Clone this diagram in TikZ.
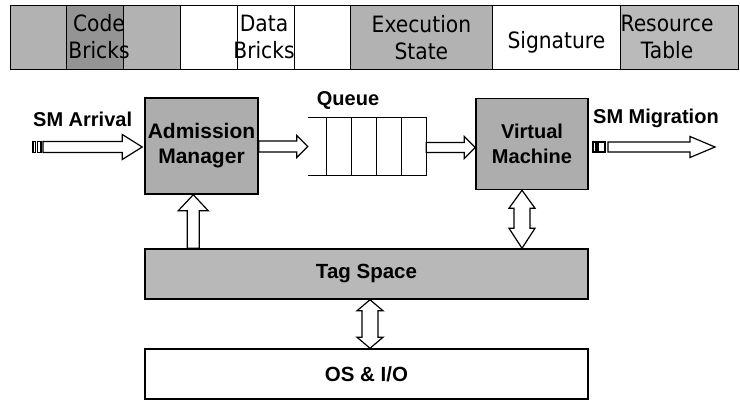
\documentclass[tikz,border=0pt]{standalone}
\usepackage{fontspec}
\setmainfont{Liberation Sans}
\newfontfamily\topfont[FakeStretch=0.9]{DejaVu Sans}
\usetikzlibrary{calc}
\tikzset{
  cell/.style={draw=black, line width=0.8pt, inner sep=0pt, minimum height=64pt, anchor=north west},
  shadedcell/.style={fill=black!30},
  darkcell/.style={fill=black!42},
  toptext/.style={font=\topfont\fontsize{22.5}{27}\selectfont, align=center},
  box/.style={draw=black, line width=1.5pt, inner sep=0pt, fill=black!32, align=center},
  boldtext/.style={font=\bfseries\fontsize{20}{25}\selectfont},
  lbl/.style={font=\bfseries\fontsize{20}{24}\selectfont, inner sep=0pt},
  blk/.style={draw=black, line width=1.2pt, fill=white, line join=miter},
  qline/.style={draw=black, line width=1pt},
}
\newcommand\HArrow[5]{%
  \draw[blk] let \p1=(#1), \p2=(#2) in
   (\x1,\y1+#3) -- (\x2-#5,\y1+#3) -- (\x2-#5,\y1+#4) -- (\x2,\y1) --
   (\x2-#5,\y1-#4) -- (\x2-#5,\y1-#3) -- (\x1,\y1-#3) -- cycle;}
\newcommand\UArrow[5]{%
  \draw[blk] let \p1=(#1), \p2=(#2) in
   (\x1-#3,\y1) -- (\x1-#3,\y2-#5) -- (\x1-#4,\y2-#5) -- (\x1,\y2) --
   (\x1+#4,\y2-#5) -- (\x1+#3,\y2-#5) -- (\x1+#3,\y1) -- cycle;}
\newcommand\DArrow[6]{%
  \draw[blk] let \p1=(#1), \p2=(#2) in
   (\x1,\y1) -- (\x1+#4,\y1-#5) -- (\x1+#3,\y1-#5) -- (\x1+#3,\y2+#6) --
   (\x1+#4,\y2+#6) -- (\x1,\y2) -- (\x1-#4,\y2+#6) -- (\x1-#3,\y2+#6) --
   (\x1-#3,\y1-#5) -- (\x1-#4,\y1-#5) -- cycle;}
\begin{document}
\begin{tikzpicture}[x=1pt, y=-1pt]
\useasboundingbox (0,0) rectangle (740,400);

% ---- top bar ----
\node[cell, shadedcell, minimum width=56pt]  (c0) at (10,5) {};
\node[cell, darkcell,   minimum width=57pt]  (c1) at (66,5) {};
\node[cell, shadedcell, minimum width=57pt]  (c2) at (123,5) {};
\node[cell, fill=white, minimum width=57pt]  (c3) at (180,5) {};
\node[cell, fill=white, minimum width=57pt]  (c4) at (237,5) {};
\node[cell, fill=white, minimum width=56pt]  (c5) at (294,5) {};
\node[cell, shadedcell, minimum width=142pt, toptext] (c6) at (350,5) {Execution\\State};
\node[cell, fill=white, minimum width=128pt, toptext, text height=22pt, text depth=0pt] (c7) at (492,5) {Signature};
\node[cell, fill=black!27, minimum width=118pt] (c8) at (620,5) {};
\node[toptext, inner sep=0pt] (c1t) at (99,37) {Code\\Bricks};
\node[toptext, inner sep=0pt] (c4t) at (264,37) {Data\\Bricks};
\node[toptext, inner sep=0pt] (c8t) at (667,37) {Resource\\Table};

% ---- main boxes ----
\node[box, font=\bfseries\fontsize{21}{25}\selectfont, minimum width=113pt, minimum height=96pt] (am) at (201.5,146) {Admission\\Manager};
\node[box, boldtext, minimum width=112pt, minimum height=91pt] (vm) at (532,144) {Virtual\\Machine};
\node[box, fill=black!28, font=\bfseries\fontsize{20.5}{25}\selectfont, minimum width=443pt, minimum height=50pt] (tag) at (366.5,274) {Tag Space};
\node[box, fill=white, font=\bfseries\fontsize{20.5}{25}\selectfont, minimum width=443pt, minimum height=50pt] (os) at (366.5,374) {OS \& I/O};

% ---- queue ----
\node[inner sep=0pt, minimum width=118pt, minimum height=57pt] (queue) at (367,146.5) {};
\draw[qline] (queue.north west) -- (queue.north east) -- (queue.south east) -- (queue.south west);
\foreach \d in {19,44,69,94}
  \draw[qline] ($(queue.north west)+(\d,0)$) -- ($(queue.south west)+(\d,0)$);

% ---- labels ----
\node[lbl, anchor=base west] (arrL) at (33,126) {SM Arrival};
\node[lbl, anchor=base west] (migL) at (593,123) {SM Migration};
\node[lbl, anchor=base] (qL) at (348,105) {Queue};

% ---- horizontal block arrows ----
\coordinate (arrT) at (43,147);
\HArrow{arrT}{$(am.west)+(-2,0)$}{5.5pt}{12.5pt}{20pt}
\draw[blk] ($(arrT)+(-10,-5.5)$) rectangle ($(arrT)+(-7.5,5.5)$);
\draw[blk] ($(arrT)+(-5.5,-5.5)$) rectangle ($(arrT)+(-2,5.5)$);

\HArrow{$(am.east)+(0,0.5)$}{queue.west}{5.5pt}{11pt}{11pt}
\HArrow{$(queue.east)+(0,1)$}{vm.west}{5pt}{11pt}{11pt}

\coordinate (migT) at (608,147);
\coordinate (migH) at (715,147);
\HArrow{migT}{migH}{5pt}{10.5pt}{25pt}
\draw[blk] ($(migT)+(-15,-5)$) rectangle ($(migT)+(-12,5)$);
\draw[blk] ($(migT)+(-10,-5)$) rectangle ($(migT)+(-3,5)$);

% ---- vertical block arrows ----
\UArrow{$(tag.north west)+(49,0)$}{$(am.south)+(-7.5,0)$}{6pt}{15pt}{16pt}
\DArrow{$(vm.south)+(-10,0)$}{$(tag.north east)+(-66,0)$}{8pt}{13pt}{18pt}{20pt}
\DArrow{$(tag.south)+(3.5,0)$}{$(os.north)+(3.5,0)$}{8pt}{13pt}{11pt}{11pt}
\end{tikzpicture}
\end{document}
